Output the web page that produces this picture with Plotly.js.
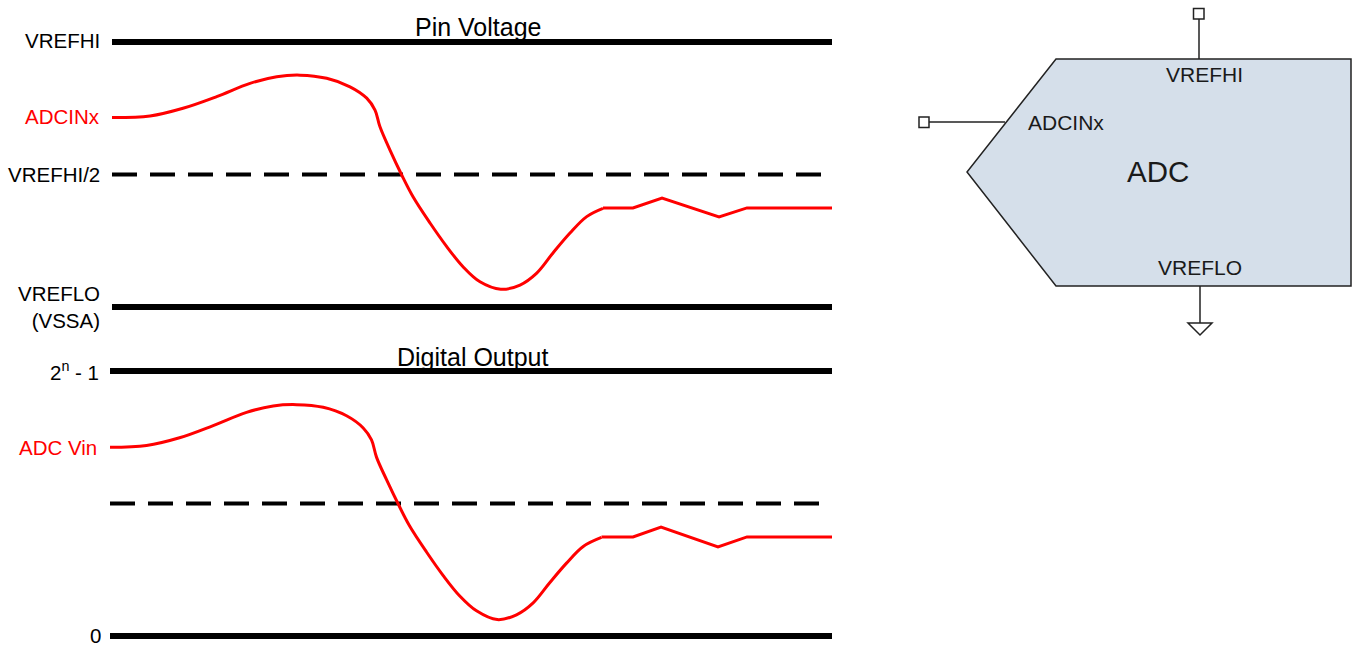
<!DOCTYPE html>
<html>
<head>
<meta charset="utf-8">
<script src="https://cdn.plot.ly/plotly-3.0.1.min.js"></script>
<style>html,body{margin:0;padding:0;background:#fff;}#chart{width:1353px;height:645px;}</style>
</head>
<body>
<div id="chart"></div>
<script>
// ---------- DATA (time 0..100, normalized level 0..1) ----------
// Pin Voltage panel: ADCINx signal
const pinT_smooth = [0, 5.28, 9.86, 14.54, 19.17, 22.88, 26.11, 29.82, 33.06, 35.38, 36.53, 37.22, 38.61, 40.24, 41.81, 44.17, 46.49, 48.75, 51.11, 53.99, 56.67, 58.99, 61.25, 63.61, 65.93, 68.19];
const pinV_smooth = [0.715, 0.721, 0.750, 0.794, 0.844, 0.869, 0.875, 0.863, 0.831, 0.788, 0.743, 0.680, 0.592, 0.498, 0.416, 0.317, 0.228, 0.152, 0.095, 0.067, 0.083, 0.128, 0.204, 0.279, 0.341, 0.372];
const pinT_settle = [68.19, 72.36, 76.39, 84.31, 88.19, 100];
const pinV_settle = [0.374, 0.374, 0.411, 0.340, 0.374, 0.374];
const pinLevels = [1, 0.5, 0];
const pinLevelLabels = ["VREFHI", "VREFHI/2", "VREFLO<br>(VSSA)"];

// Digital Output panel: ADC Vin
const digT_smooth = [0, 5.06, 9.63, 14.29, 18.91, 22.60, 25.83, 29.53, 32.76, 35.07, 36.22, 36.91, 38.30, 39.92, 41.48, 43.84, 46.15, 48.41, 50.76, 53.63, 56.30, 58.61, 60.87, 63.23, 65.54, 68.07];
const digV_smooth = [0.712, 0.719, 0.748, 0.794, 0.844, 0.868, 0.873, 0.863, 0.831, 0.785, 0.740, 0.675, 0.590, 0.498, 0.416, 0.317, 0.228, 0.152, 0.095, 0.062, 0.080, 0.125, 0.200, 0.275, 0.338, 0.372];
const digT_settle = [68.07, 72.44, 76.32, 84.21, 88.23, 100];
const digV_settle = [0.374, 0.374, 0.411, 0.336, 0.374, 0.374];
const digLevels = [1, 0.5, 0];
const digLevelLabels = ["2<sup>n</sup> - 1", "0"];

const panelTitles = ["Pin Voltage", "Digital Output"];
const signalLabels = ["ADCINx", "ADC Vin"];

// ADC block schematic outline (pixel units)
const adcOutlineX = [1056, 1351, 1351, 1056, 967];
const adcOutlineY = [59, 59, 286, 286, 172];
const adcTexts = ["VREFHI", "ADCINx", "ADC", "VREFLO"];

// ---------- LAYOUT HELPERS ----------
const W = 1353, H = 645;
const px = x => x / W;
const py = y => 1 - y / H;
const FONT = "Liberation Sans, Arial, sans-serif";
const RED = "#ff0000";

function levelTraces(levels, xa, ya) {
  return levels.map((v, i) => ({
    x: [0, 100], y: [v, v], xaxis: xa, yaxis: ya, mode: "lines", hoverinfo: "skip",
    line: i === 1 ? {color: "#000", width: 4, dash: "25px,13px"} : {color: "#000", width: 6}
  }));
}
function sigTraces(ts, vs, tl, vl, xa, ya) {
  return [
    {x: ts, y: vs, xaxis: xa, yaxis: ya, mode: "lines", hoverinfo: "skip", line: {color: RED, width: 3, shape: "spline", smoothing: 1}},
    {x: tl, y: vl, xaxis: xa, yaxis: ya, mode: "lines", hoverinfo: "skip", line: {color: RED, width: 3}}
  ];
}

const data = [
  ...levelTraces(pinLevels, "x", "y"),
  ...levelTraces(digLevels, "x2", "y2"),
  ...sigTraces(pinT_smooth, pinV_smooth, pinT_settle, pinV_settle, "x", "y"),
  ...sigTraces(digT_smooth, digV_smooth, digT_settle, digV_settle, "x2", "y2")
];

const ax = {visible: false, showgrid: false, zeroline: false, fixedrange: true};
const annotations = [];
function lab(text, x, y, xr, yr, shift, color, yshift, h) {
  const a = {text, x, y, xref: xr, yref: yr, xanchor: "right", yanchor: "middle", showarrow: false,
    xshift: shift, yshift: yshift || 0, align: "right", valign: "middle", borderpad: 0,
    font: {family: FONT, size: 20.5, color: color || "#000"}};
  if (h) a.height = h;
  annotations.push(a);
}
// Top panel labels
lab(pinLevelLabels[0], 0, pinLevels[0], "x", "y", -11, "#000", 1);
lab(pinLevelLabels[1], 0, pinLevels[1], "x", "y", -11, "#000", 0);
lab(pinLevelLabels[2], 0, pinLevels[2], "x", "y", -11, "#000", 0);
lab(signalLabels[0], 0, pinV_smooth[0], "x", "y", -11, RED, 1);
// Bottom panel labels
lab(digLevelLabels[0], 0, digLevels[0], "x2", "y2", -10, "#000", 0);
lab(digLevelLabels[1], 0, digLevels[2], "x2", "y2", -8, "#000", 1, 18);
lab(signalLabels[1], 0, digV_smooth[0], "x2", "y2", -12, RED, 0);
// Panel titles
[[panelTitles[0], 478, 27], [panelTitles[1], 473, 357]].forEach(([t, x, y]) => annotations.push({
  text: t, x: px(x), y: py(y), xref: "paper", yref: "paper", xanchor: "center", yanchor: "middle",
  showarrow: false, borderpad: 0, font: {family: FONT, size: 25, color: "#000"}}));
// ADC block texts
[[adcTexts[0], 1204, 74, 21], [adcTexts[1], 1066, 122, 21], [adcTexts[2], 1158, 172, 29.5], [adcTexts[3], 1200, 268, 21]].forEach(([t, x, y, s]) => annotations.push({
  text: t, x: px(x), y: py(y), xref: "paper", yref: "paper", xanchor: "center", yanchor: "middle",
  showarrow: false, borderpad: 0, font: {family: FONT, size: s, color: "#1a1a1a"}}));

// Schematic shapes
const outlinePath = adcOutlineX.map((x, i) => (i ? "L" : "M") + px(x) + "," + py(adcOutlineY[i])).join(" ") + " Z";
const wire = {color: "#222", width: 1.5};
const shapes = [
  {type: "path", xref: "paper", yref: "paper", path: outlinePath, fillcolor: "#d5dfea", line: wire, layer: "below"},
  {type: "line", xref: "paper", yref: "paper", x0: px(1199), x1: px(1199), y0: py(19), y1: py(59), line: wire},
  {type: "rect", xref: "paper", yref: "paper", x0: px(1193.5), x1: px(1204), y0: py(8.5), y1: py(19), fillcolor: "#fff", line: wire},
  {type: "line", xref: "paper", yref: "paper", x0: px(929), x1: px(1005), y0: py(122), y1: py(122), line: wire},
  {type: "rect", xref: "paper", yref: "paper", x0: px(919), x1: px(929), y0: py(117), y1: py(127.5), fillcolor: "#fff", line: wire},
  {type: "line", xref: "paper", yref: "paper", x0: px(1200), x1: px(1200), y0: py(286), y1: py(323), line: wire},
  {type: "path", xref: "paper", yref: "paper", path: `M${px(1188)},${py(323)} L${px(1212)},${py(323)} L${px(1200)},${py(335)} Z`, fillcolor: "#fff", line: wire}
];

const layout = {
  width: W, height: H, margin: {l: 0, r: 0, t: 0, b: 0, pad: 0},
  paper_bgcolor: "#fff", plot_bgcolor: "rgba(0,0,0,0)", showlegend: false,
  xaxis: Object.assign({}, ax, {domain: [px(112), px(832)], range: [0, 100], anchor: "y"}),
  yaxis: Object.assign({}, ax, {domain: [py(320.25), py(28.75)], range: [-0.05, 1.05], anchor: "x"}),
  xaxis2: Object.assign({}, ax, {domain: [px(110), px(832)], range: [0, 100], anchor: "y2"}),
  yaxis2: Object.assign({}, ax, {domain: [py(641.3), py(357.75)], range: [-0.02, 1.05], anchor: "x2"}),
  annotations, shapes
};

Plotly.newPlot("chart", data, layout, {staticPlot: true, displayModeBar: false});
</script>
</body>
</html>
